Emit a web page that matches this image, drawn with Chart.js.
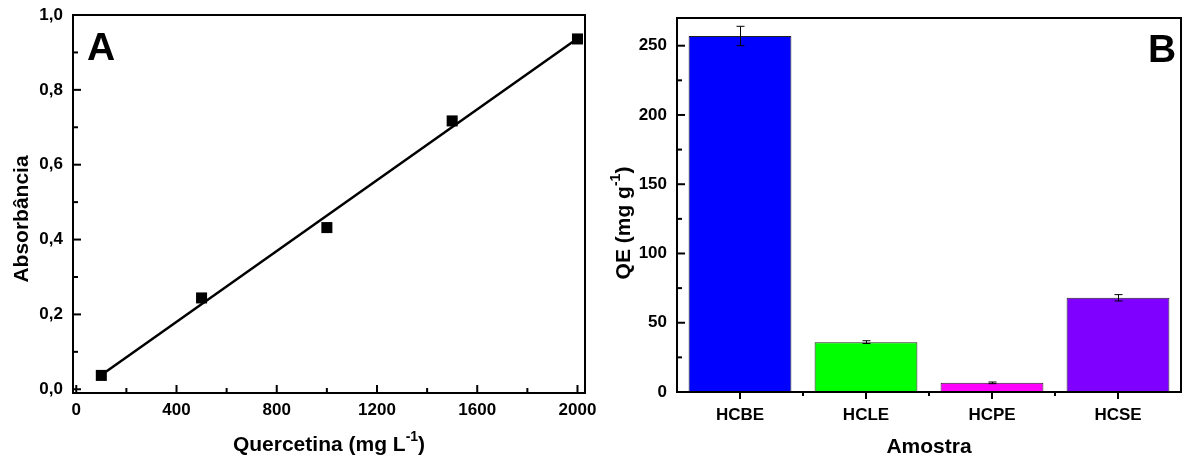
<!DOCTYPE html>
<html>
<head>
<meta charset="utf-8">
<title>Quercetina / QE</title>
<script src="https://cdn.jsdelivr.net/npm/chart.js@4.4.0/dist/chart.umd.min.js"></script>
<style>
  html, body { margin: 0; padding: 0; background: #fff; }
  #wrap { position: relative; width: 1183px; height: 461px; }
  #chartA { position: absolute; left: 0; top: 0; }
  #chartB { position: absolute; left: 600px; top: 0; }
</style>
</head>
<body>
<div id="wrap">
  <canvas id="chartA" width="600" height="461"></canvas>
  <canvas id="chartB" width="583" height="461"></canvas>
</div>
<script>
// Calibration curve (panel A)
const concQ = [100, 500, 1000, 1500, 2000];
const absQ = [0.037, 0.244, 0.432, 0.717, 0.936];
const fitX = [100, 2000];
const fitY = [0.038, 0.937];
const xTicksA = [0, 400, 800, 1200, 1600, 2000];
const xMinorA = [200, 600, 1000, 1400, 1800];
const yTicksA = [0, 0.2, 0.4, 0.6, 0.8, 1.0];
const yMinorA = [0.1, 0.3, 0.5, 0.7, 0.9];

// Quercetin equivalents per sample (panel B)
const samples = ['HCBE', 'HCLE', 'HCPE', 'HCSE'];
const qeValues = [257, 36, 6.6, 68];
const qeErrors = [7, 1, 0.6, 2.3];
const barColors = ['#0000ff', '#00ff00', '#ff00ff', '#8000ff'];
const yTicksB = [0, 50, 100, 150, 200, 250];
const yMinorB = [25, 75, 125, 175, 225];
const xMinorB = [0.5, 1.5, 2.5];

const FONT = "'Liberation Sans', Arial, sans-serif";
const tickFont = { family: FONT, size: 17, weight: 'bold' };

// text with an optional superscript part, centred on (cx, cy)
function richText(ctx, parts, cx, cy, angle) {
  ctx.save();
  ctx.translate(cx, cy);
  ctx.rotate(angle || 0);
  ctx.textAlign = 'left';
  ctx.textBaseline = 'middle';
  ctx.fillStyle = '#000';
  const fontOf = p => p.sup ? `bold 14px ${FONT}` : `bold 21px ${FONT}`;
  let w = 0;
  parts.forEach(p => { ctx.font = fontOf(p); w += ctx.measureText(p.text).width; });
  let x = -w / 2;
  parts.forEach(p => {
    ctx.font = fontOf(p);
    ctx.fillText(p.text, x, p.sup ? -8 : 0);
    x += ctx.measureText(p.text).width;
  });
  ctx.restore();
}

// frame, tick marks, axis titles and panel letter
function decorations(cfg) {
  return {
    id: 'decorations',
    afterDraw(chart) {
      const { ctx, chartArea: a, scales } = chart;
      ctx.save();
      ctx.strokeStyle = '#000';
      ctx.lineWidth = 2;
      const mark = (x1, y1, x2, y2) => {
        ctx.beginPath(); ctx.moveTo(x1, y1); ctx.lineTo(x2, y2); ctx.stroke();
      };
      cfg.xMarks.forEach(([vals, len]) => vals.forEach(v => {
        const px = scales.x.getPixelForValue(v);
        mark(px, a.bottom, px, a.bottom + len);
      }));
      cfg.yMarks.forEach(([vals, len]) => vals.forEach(v => {
        const py = scales.y.getPixelForValue(v);
        mark(a.left, py, a.left + len, py);
      }));
      ctx.strokeRect(a.left, a.top, a.right - a.left, a.bottom - a.top);

      ctx.fillStyle = '#000';
      ctx.font = `bold 39px ${FONT}`;
      ctx.textAlign = 'left';
      ctx.textBaseline = 'alphabetic';
      ctx.fillText(cfg.letter[0], cfg.letter[1], cfg.letter[2]);
      ctx.restore();

      richText(ctx, cfg.xTitle, (a.left + a.right) / 2, cfg.xTitleY);
      richText(ctx, cfg.yTitle, cfg.yTitleX, cfg.yTitleY, -Math.PI / 2);
    }
  };
}

const errorBars = {
  id: 'errorBars',
  afterDatasetsDraw(chart) {
    const { ctx, scales } = chart;
    const bars = chart.getDatasetMeta(0).data;
    ctx.save();
    ctx.strokeStyle = '#000';
    ctx.lineWidth = 1;
    bars.forEach((bar, i) => {
      const x = Math.round(bar.x) + 0.5;
      const yHi = scales.y.getPixelForValue(qeValues[i] + qeErrors[i]);
      const yLo = scales.y.getPixelForValue(qeValues[i] - qeErrors[i]);
      ctx.beginPath();
      ctx.moveTo(x, yHi); ctx.lineTo(x, yLo);
      ctx.moveTo(x - 4, yHi); ctx.lineTo(x + 4, yHi);
      ctx.moveTo(x - 4, yLo); ctx.lineTo(x + 4, yLo);
      ctx.stroke();
    });
    ctx.restore();
  }
};

const hiddenGrid = { display: false, drawTicks: false };

new Chart(document.getElementById('chartA'), {
  type: 'scatter',
  data: {
    datasets: [
      {
        data: concQ.map((x, i) => ({ x, y: absQ[i] })),
        pointStyle: 'rect',
        pointRadius: 7.8,
        backgroundColor: '#000',
        borderColor: '#000',
        borderWidth: 0
      },
      {
        type: 'line',
        data: fitX.map((x, i) => ({ x, y: fitY[i] })),
        showLine: true,
        borderColor: '#000',
        borderWidth: 2.5,
        pointRadius: 0,
        fill: false
      }
    ]
  },
  options: {
    responsive: false,
    animation: false,
    events: [],
    layout: { padding: { left: 0, right: 15, top: 15, bottom: 0 } },
    plugins: { legend: { display: false }, tooltip: { enabled: false } },
    scales: {
      x: {
        type: 'linear', min: -13, max: 2030,
        grid: hiddenGrid, border: { display: false },
        afterBuildTicks: s => { s.ticks = xTicksA.map(v => ({ value: v })); },
        afterFit: s => { s.height = 68; s.paddingLeft = 0; s.paddingRight = 0; },
        ticks: {
          color: '#000', font: tickFont, padding: 7, maxRotation: 0, autoSkip: false,
          callback: v => String(v)
        }
      },
      y: {
        type: 'linear', min: -0.01, max: 1.0,
        grid: hiddenGrid, border: { display: false },
        afterBuildTicks: s => { s.ticks = yTicksA.map(v => ({ value: v })); },
        afterFit: s => { s.width = 73; s.paddingTop = 0; s.paddingBottom = 0; },
        ticks: {
          color: '#000', font: tickFont, padding: 10, autoSkip: false,
          callback: v => v.toFixed(1).replace('.', ',')
        }
      }
    }
  },
  plugins: [decorations({
    xMarks: [[xTicksA, -8], [xMinorA, -5]],
    yMarks: [[yTicksA, 8], [yMinorA, 5]],
    letter: ['A', 87, 60],
    xTitle: [{ text: 'Quercetina (mg L' }, { text: '-1', sup: true }, { text: ')' }],
    xTitleY: 445,
    yTitle: [{ text: 'Absorbância' }],
    yTitleX: 22, yTitleY: 219
  })]
});

new Chart(document.getElementById('chartB'), {
  type: 'bar',
  data: {
    labels: samples,
    datasets: [{
      data: qeValues,
      backgroundColor: barColors,
      borderColor: '#222',
      borderWidth: 1,
      borderSkipped: false,
      barPercentage: 0.816,
      categoryPercentage: 1
    }]
  },
  options: {
    responsive: false,
    animation: false,
    events: [],
    layout: { padding: { left: 0, right: 2, top: 18, bottom: 0 } },
    plugins: { legend: { display: false }, tooltip: { enabled: false } },
    scales: {
      x: {
        grid: hiddenGrid, border: { display: false },
        afterFit: s => { s.height = 69; s.paddingLeft = 0; s.paddingRight = 0; },
        ticks: { color: '#000', font: tickFont, padding: 13, maxRotation: 0, autoSkip: false }
      },
      y: {
        min: 0, max: 270,
        grid: hiddenGrid, border: { display: false },
        afterBuildTicks: s => { s.ticks = yTicksB.map(v => ({ value: v })); },
        afterFit: s => { s.width = 77; s.paddingTop = 0; s.paddingBottom = 0; },
        ticks: { color: '#000', font: tickFont, padding: 10, autoSkip: false }
      }
    }
  },
  plugins: [errorBars, decorations({
    xMarks: [[[0, 1, 2, 3], 7], [xMinorB, 4]],
    yMarks: [[yTicksB, 8], [yMinorB, 5]],
    letter: ['B', 548, 62],
    xTitle: [{ text: 'Amostra' }],
    xTitleY: 447,
    yTitle: [{ text: 'QE (mg g' }, { text: '-1', sup: true }, { text: ')' }],
    yTitleX: 24, yTitleY: 223
  })]
});
</script>
</body>
</html>
